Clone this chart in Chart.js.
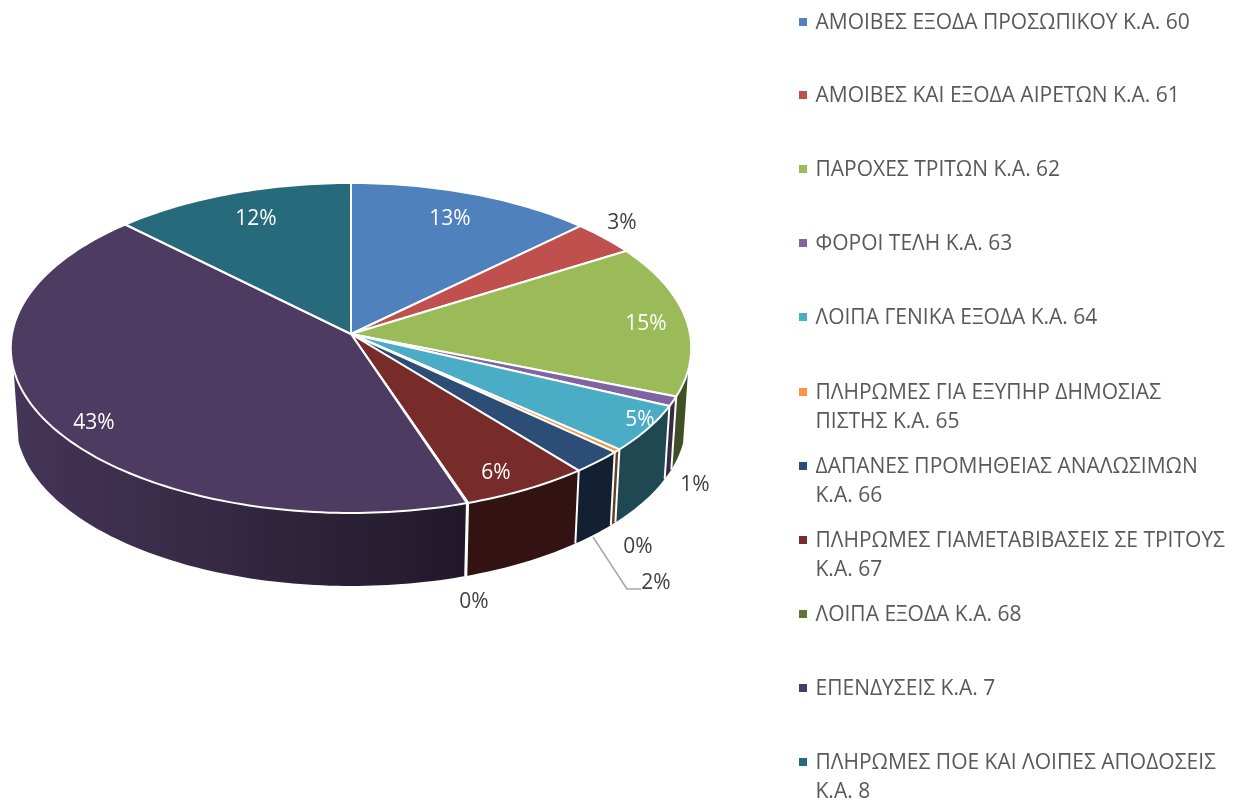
<!DOCTYPE html>
<html>
<head>
<meta charset="utf-8">
<style>
  html, body { margin: 0; padding: 0; background: #fff; }
  canvas { display: block; }
</style>
<script src="https://cdn.jsdelivr.net/npm/chart.js@4"></script>
</head>
<body>
<canvas id="chart" width="1238" height="805"></canvas>
<script>
// Data
const categories = [
  ["ΑΜΟΙΒΕΣ ΕΞΟΔΑ ΠΡΟΣΩΠΙΚΟΥ Κ.Α. 60"],
  ["ΑΜΟΙΒΕΣ ΚΑΙ ΕΞΟΔΑ ΑΙΡΕΤΩΝ Κ.Α. 61"],
  ["ΠΑΡΟΧΕΣ ΤΡΙΤΩΝ Κ.Α. 62"],
  ["ΦΟΡΟΙ ΤΕΛΗ Κ.Α. 63"],
  ["ΛΟΙΠΑ ΓΕΝΙΚΑ ΕΞΟΔΑ Κ.Α. 64"],
  ["ΠΛΗΡΩΜΕΣ ΓΙΑ ΕΞΥΠΗΡ ΔΗΜΟΣΙΑΣ", "ΠΙΣΤΗΣ Κ.Α. 65"],
  ["ΔΑΠΑΝΕΣ ΠΡΟΜΗΘΕΙΑΣ ΑΝΑΛΩΣΙΜΩΝ", "Κ.Α. 66"],
  ["ΠΛΗΡΩΜΕΣ ΓΙΑΜΕΤΑΒΙΒΑΣΕΙΣ ΣΕ ΤΡΙΤΟΥΣ", "Κ.Α. 67"],
  ["ΛΟΙΠΑ ΕΞΟΔΑ Κ.Α. 68"],
  ["ΕΠΕΝΔΥΣΕΙΣ Κ.Α. 7"],
  ["ΠΛΗΡΩΜΕΣ ΠΟΕ ΚΑΙ ΛΟΙΠΕΣ ΑΠΟΔΟΣΕΙΣ", "Κ.Α. 8"]
];
const values = [12.7, 3.4, 14.9, 0.95, 4.6, 0.33, 2.3, 5.65, 0.05, 42.6, 12.46];
const colors = ["#4F81BD", "#C0504D", "#9BBB59", "#8064A2", "#4BACC6", "#F79646",
                "#2C4D75", "#772C2A", "#5F7530", "#4D3B62", "#276A7C"];

// Layout of the 3D look (Excel style perspective pie)
const cx = 351, cy = 334, rimA = 339, rimB = 163.8, persp = -0.0848;
const depth = 73, bottomScale = 0.985, wallFrom = 0.2;
const fontName = '"Open Sans"';
const labelPos = [[450, 219], [622, 223], [646, 324], [695, 485], [640, 420], [638, 547],
                  [656, 583], [496, 473], [474, 602], [94, 423], [256, 219]];
const labelColor = ["#fff", "#404040", "#fff", "#404040", "#fff", "#404040",
                    "#404040", "#fff", "#404040", "#fff", "#fff"];
const legendY = [22, 95, 169, 243, 317, 392, 466, 540, 614, 688, 762];

function project(angle) {
  const u = Math.cos(angle), v = Math.sin(angle), w = 1 + persp * v;
  return { x: cx + rimA * u / w, y: cy + rimB * v / w, v: v };
}
function bottom(p) {
  return { x: cx + (p.x - cx) * bottomScale, y: p.y + depth };
}
// wall gets darker going right along the front, then stays flat
function wallShade(x) {
  if (x < 470) return 0.9 + (x - 11) / 459 * (0.42 - 0.9);
  return 0.42;
}
function shade(hex, f) {
  const n = parseInt(hex.slice(1), 16);
  return `rgb(${Math.round((n >> 16) * f)},${Math.round(((n >> 8) & 255) * f)},${Math.round((n & 255) * f)})`;
}
function sampleArc(a0, a1) {
  const n = Math.max(2, Math.ceil((a1 - a0) / 0.02));
  const pts = [];
  for (let i = 0; i <= n; i++) pts.push(project(a0 + (a1 - a0) * i / n));
  return pts;
}

const pie3d = {
  id: "pie3d",
  beforeDatasetsDraw(chart) {
    const ctx = chart.ctx;
    const arcs = chart.getDatasetMeta(0).data;
    const dsColors = chart.data.datasets[0].backgroundColor;
    ctx.save();
    ctx.lineJoin = "round";

    // side walls, one polygon per slice with a left to right gradient
    arcs.forEach((arc, i) => {
      const pts = sampleArc(arc.startAngle, arc.endAngle).filter(p => p.v >= wallFrom);
      if (pts.length < 2) return;
      const xs = pts.map(p => p.x);
      const x0 = Math.min(...xs), x1 = Math.max(...xs);
      const grad = ctx.createLinearGradient(x0, 0, x1 + 0.01, 0);
      for (let s = 0; s <= 10; s++) {
        grad.addColorStop(s / 10, shade(dsColors[i], wallShade(x0 + (x1 - x0) * s / 10)));
      }
      ctx.beginPath();
      pts.forEach((p, k) => k ? ctx.lineTo(p.x, p.y) : ctx.moveTo(p.x, p.y));
      pts.slice().reverse().forEach(p => { const q = bottom(p); ctx.lineTo(q.x, q.y); });
      ctx.closePath();
      ctx.fillStyle = grad;
      ctx.fill();
    });
    // white seams on the walls
    ctx.strokeStyle = "#fff"; ctx.lineWidth = 2;
    arcs.forEach(arc => {
      const p = project(arc.endAngle);
      if (p.v < wallFrom) return;
      const q = bottom(p);
      ctx.beginPath(); ctx.moveTo(p.x, p.y); ctx.lineTo(q.x, q.y); ctx.stroke();
    });

    // top face
    arcs.forEach((arc, i) => {
      const pts = sampleArc(arc.startAngle, arc.endAngle);
      ctx.beginPath();
      ctx.moveTo(cx, cy);
      pts.forEach(p => ctx.lineTo(p.x, p.y));
      ctx.closePath();
      ctx.fillStyle = dsColors[i];
      ctx.strokeStyle = "#fff"; ctx.lineWidth = 2;
      ctx.fill(); ctx.stroke();
    });

    // leader line of the 2% label
    ctx.strokeStyle = "#A6A6A6"; ctx.lineWidth = 1.5;
    ctx.beginPath(); ctx.moveTo(593, 537); ctx.lineTo(627, 589); ctx.lineTo(641, 589); ctx.stroke();

    // data labels
    const total = values.reduce((s, v) => s + v, 0);
    ctx.font = `21px ${fontName}`;
    ctx.textAlign = "center"; ctx.textBaseline = "middle";
    values.forEach((v, i) => {
      ctx.fillStyle = labelColor[i];
      ctx.fillText(Math.round(v / total * 100) + "%", labelPos[i][0], labelPos[i][1]);
    });

    // legend
    ctx.textAlign = "left";
    chart.data.labels.forEach((lines, i) => {
      ctx.fillStyle = dsColors[i];
      ctx.fillRect(799, legendY[i] - 4, 8, 8);
      ctx.fillStyle = "#595959";
      lines.forEach((t, l) => ctx.fillText(t, 815.5, legendY[i] + 1 + l * 29.5));
    });
    ctx.restore();
    return false;
  }
};

new Chart(document.getElementById("chart"), {
  type: "pie",
  data: {
    labels: categories,
    datasets: [{ data: values, backgroundColor: colors, borderColor: "#fff", borderWidth: 2 }]
  },
  options: {
    responsive: false,
    animation: false,
    plugins: { legend: { display: false }, tooltip: { enabled: false } }
  },
  plugins: [pie3d]
});
</script>
</body>
</html>
